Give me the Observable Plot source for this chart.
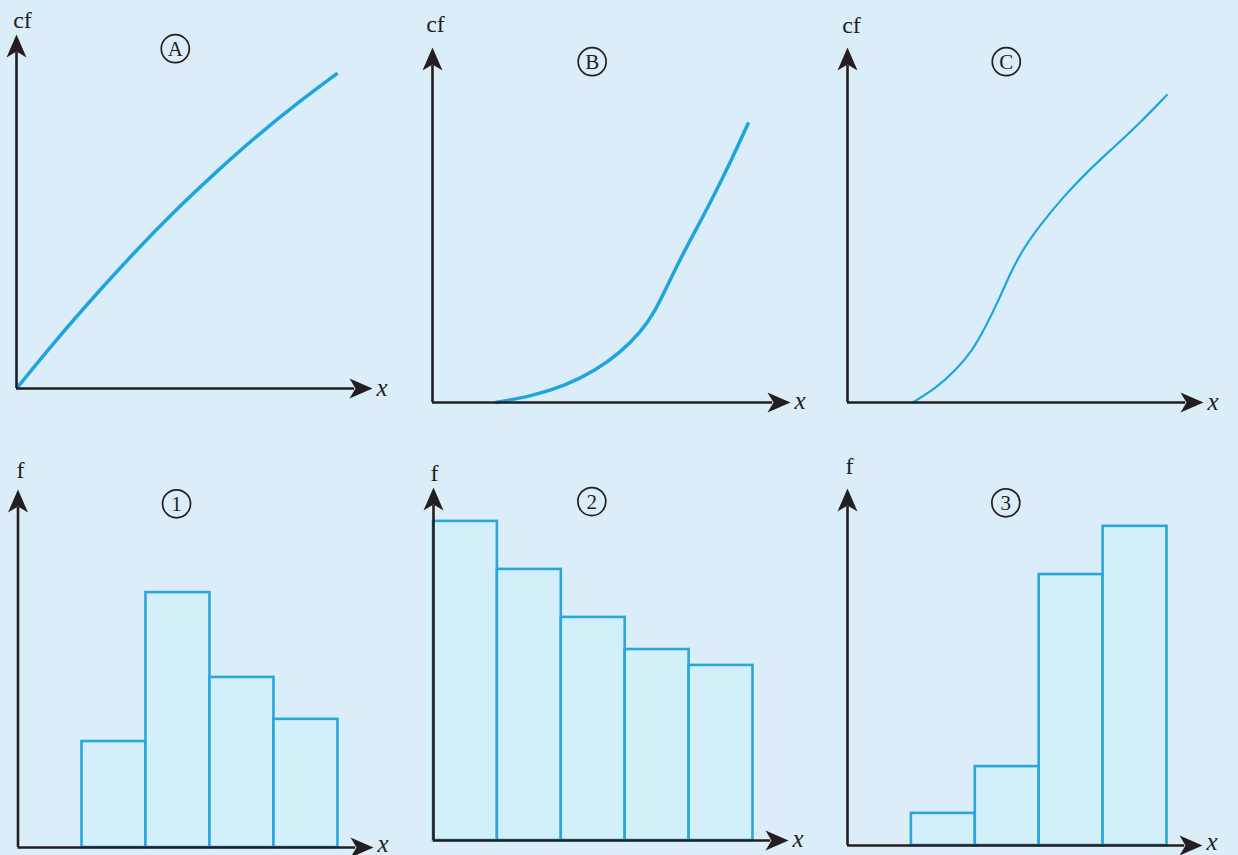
<!DOCTYPE html>
<html>
<head>
<meta charset="utf-8">
<script src="https://cdn.jsdelivr.net/npm/d3@7"></script>
<script src="https://cdn.jsdelivr.net/npm/@observablehq/plot@0.6"></script>
<style>
  html, body { margin: 0; padding: 0; background: #dcedfa; }
  #wrap { position: relative; width: 1238px; height: 855px; background: #dcedfa; overflow: hidden; }
  #wrap svg { position: absolute; }
</style>
</head>
<body>
<div id="wrap"></div>
<script>
// ---------- data (arbitrary units: each axis runs 0..100 up to its arrow tip) ----------
const cfLabels = ["A", "B", "C"];
const fLabels = ["1", "2", "3"];

// cumulative frequency curves
const curveAx  = [0, 11.2, 22.5, 33.7, 44.9, 56.2, 67.4, 78.7, 90.2];
const curveAcf = [0, 13.8, 26.8, 39.1, 50.6, 61.3, 71.3, 80.5, 89.1];

const curveBx  = [17.6, 27.4, 37.2, 45.5, 52.5, 58.1, 62.3, 65.6, 69.3, 73.5, 78.2, 83.2, 88.3];
const curveBcf = [0, 1.7, 4.8, 9.0, 14.1, 19.7, 25.9, 32.9, 40.6, 48.5, 57.5, 67.6, 78.9];

const curveCx  = [18.3, 24.7, 30.3, 35.1, 39.0, 42.4, 45.8, 49.4, 54.2, 60.4, 67.7, 74.7, 82.3, 89.9];
const curveCcf = [0, 3.9, 9.0, 14.6, 21.7, 28.7, 36.6, 43.4, 50.1, 57.7, 65.4, 71.8, 78.9, 86.8];

// histograms
const edges1 = [18, 36, 54, 72, 90];
const freq1  = [29.6, 71.2, 47.5, 35.8];
const edges2 = [0, 18, 36, 54, 72, 90];
const freq2  = [90.4, 76.8, 63.2, 54.1, 49.6];
const edges3 = [18, 36, 54, 72, 90];
const freq3  = [9.0, 22.1, 75.9, 89.4];

// ---------- styles ----------
const AXIS = "#231f20";
const CURVE = "#1ea5dc";
const BAR_FILL = "#d3effa";
const BAR_STROKE = "#2aa6d8";
const FONT = "Liberation Serif, 'Times New Roman', serif";

// stealth arrowheads, tip at the symbol origin
const arrowUp = {
  draw(ctx, size) {
    const s = Math.sqrt(size / Math.PI) / 10;
    ctx.moveTo(0, 0);
    ctx.lineTo(10 * s, 23 * s);
    ctx.lineTo(0, 17 * s);
    ctx.lineTo(-10 * s, 23 * s);
    ctx.closePath();
  }
};
const arrowRight = {
  draw(ctx, size) {
    const s = Math.sqrt(size / Math.PI) / 10;
    ctx.moveTo(0, 0);
    ctx.lineTo(-23 * s, -10 * s);
    ctx.lineTo(-17 * s, 0);
    ctx.lineTo(-23 * s, 10 * s);
    ctx.closePath();
  }
};

// ---------- layout of the six panels ----------
const layout = [
  {left: 0,   top: 0,   w: 413, h: 425, ml: 16,   mr: 41, mt: 34, mb: 37, ly: "cf", ldx: 6,   ldy: -14, xdy: -1, cw: 3.5},
  {left: 413, top: 0,   w: 412, h: 425, ml: 19,   mr: 35, mt: 47, mb: 23, ly: "cf", ldx: 3,   ldy: -23, xdy: -2, cw: 3.5},
  {left: 825, top: 0,   w: 413, h: 425, ml: 22,   mr: 35, mt: 47, mb: 23, ly: "cf", ldx: 4,   ldy: -22, xdy: -1, cw: 2.2},
  {left: 0,   top: 425, w: 413, h: 430, ml: 17.5, mr: 40, mt: 64, mb: 8,  ly: "f",  ldx: 2.5, ldy: -19, xdy: -4},
  {left: 413, top: 425, w: 412, h: 430, ml: 20,   mr: 37, mt: 62, mb: 15, ly: "f",  ldx: 1,   ldy: -14, xdy: -2},
  {left: 825, top: 425, w: 413, h: 430, ml: 22,   mr: 36, mt: 63, mb: 10, ly: "f",  ldx: 2,   ldy: -22, xdy: -4}
];

const wrap = document.getElementById("wrap");

function frameMarks(cfg, badge) {
  return [
    Plot.ruleX([{x: 0}], {x: "x", y1: 0, y2: 95, stroke: AXIS, strokeWidth: 2.6}),
    Plot.ruleY([{y: 0}], {y: "y", x1: 0, x2: 95, stroke: AXIS, strokeWidth: 2.6}),
    Plot.dot([{x: 0, y: 100}], {x: "x", y: "y", symbol: arrowUp, r: 10, fill: AXIS, stroke: "none"}),
    Plot.dot([{x: 100, y: 0}], {x: "x", y: "y", symbol: arrowRight, r: 10, fill: AXIS, stroke: "none"}),
    Plot.text([{x: 0, y: 100, t: cfg.ly}], {x: "x", y: "y", text: "t", dx: cfg.ldx, dy: cfg.ldy,
      fontFamily: FONT, fontSize: 24, fill: AXIS}),
    Plot.text([{x: 100, y: 0, t: "x"}], {x: "x", y: "y", text: "t", dx: 4, dy: cfg.xdy, textAnchor: "start",
      fontFamily: FONT, fontStyle: "italic", fontSize: 25, fill: AXIS}),
    Plot.dot([{x: 44.6, y: 96}], {x: "x", y: "y", r: 14, stroke: AXIS, strokeWidth: 1.7, fill: "none"}),
    Plot.text([{x: 44.6, y: 96, t: badge}], {x: "x", y: "y", text: "t", fontFamily: FONT, fontSize: 21, fill: AXIS, dy: 0.5})
  ];
}

function panel(cfg, badge, dataMarks) {
  const svg = Plot.plot({
    width: cfg.w, height: cfg.h,
    marginLeft: cfg.ml, marginRight: cfg.mr, marginTop: cfg.mt, marginBottom: cfg.mb,
    x: {domain: [0, 100], axis: null},
    y: {domain: [0, 100], axis: null},
    style: {background: "transparent", overflow: "visible"},
    marks: [...dataMarks, ...frameMarks(cfg, badge)]
  });
  svg.style.left = cfg.left + "px";
  svg.style.top = cfg.top + "px";
  wrap.append(svg);
}

function curveData(xs, ys) { return xs.map((x, i) => ({x, cf: ys[i]})); }
function binData(edges, freqs) { return freqs.map((f, i) => ({x1: edges[i], x2: edges[i + 1], f})); }

const curves = [[curveAx, curveAcf], [curveBx, curveBcf], [curveCx, curveCcf]];
curves.forEach(([xs, ys], i) => {
  panel(layout[i], cfLabels[i], [
    Plot.line(curveData(xs, ys), {x: "x", y: "cf", curve: "basis", stroke: CURVE,
      strokeWidth: layout[i].cw, strokeLinecap: "butt"})
  ]);
});

const hists = [[edges1, freq1], [edges2, freq2], [edges3, freq3]];
hists.forEach(([edges, freqs], i) => {
  panel(layout[i + 3], fLabels[i], [
    Plot.rect(binData(edges, freqs), {x1: "x1", x2: "x2", y1: 0, y2: "f", fill: BAR_FILL,
      stroke: BAR_STROKE, strokeWidth: 2.6})
  ]);
});
</script>
</body>
</html>
